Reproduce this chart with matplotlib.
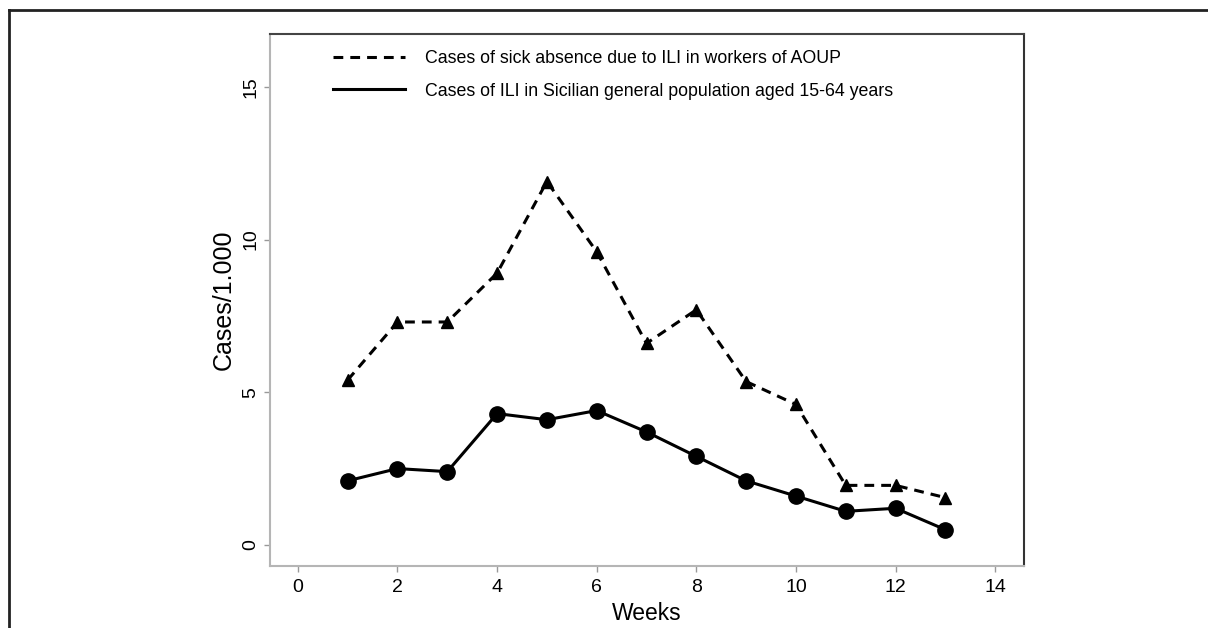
import numpy as np
import matplotlib
matplotlib.use("Agg")
import matplotlib.pyplot as plt
from matplotlib.lines import Line2D

plt.rcParams['font.family'] = ['Liberation Sans', 'DejaVu Sans']

weeks = [1, 2, 3, 4, 5, 6, 7, 8, 9, 10, 11, 12, 13]
# sick absence in AOUP workers (dashed, triangles)
aoup = [5.4, 7.3, 7.3, 8.9, 11.9, 9.6, 6.6, 7.7, 5.35, 4.6, 1.95, 1.95, 1.55]
# ILI in Sicilian general population 15-64 (solid, circles)
sicily = [2.1, 2.5, 2.4, 4.3, 4.1, 4.4, 3.7, 2.9, 2.1, 1.6, 1.1, 1.2, 0.5]

xticks = [0, 2, 4, 6, 8, 10, 12, 14]
yticks = [0, 5, 10, 15]
lab_aoup = "Cases of sick absence due to ILI in workers of AOUP"
lab_sic = "Cases of ILI in Sicilian general population aged 15-64 years"

fig = plt.figure(figsize=(12.08, 6.28), dpi=100)
ax = fig.add_axes([270/1208, 1-566/628, (1024-270)/1208, (566-34)/628])

ax.plot(weeks, aoup, color='black', lw=2.2, ls=(0, (3.2, 2.3)),
        marker='^', ms=8.5, mec='black', mfc='black')
ax.plot(weeks, sicily, color='black', lw=2.2, ls='-',
        marker='o', ms=11, mec='black', mfc='black')

ax.set_xlim(-0.56, 14.58)
ax.set_ylim(-0.69, 16.73)
ax.set_xticks(xticks)
ax.set_yticks(yticks)
ax.tick_params(axis='both', labelsize=14, color='#999999', length=4, width=1)
ax.tick_params(axis='x', pad=5)
for t in ax.get_yticklabels():
    t.set_rotation(90)
    t.set_va('center')

ax.set_xlabel("Weeks", fontsize=16.5, labelpad=5)
ax.set_ylabel("Cases/1.000", fontsize=18, labelpad=5)

ax.spines['left'].set_color('#b5b5b5')
ax.spines['bottom'].set_color('#b5b5b5')
ax.spines['top'].set_color('#444444')
ax.spines['right'].set_color('#333333')
for s in ax.spines.values():
    s.set_linewidth(1.5)

handles = [Line2D([], [], color='black', lw=2.2, ls=(0, (3.2, 2.3))),
           Line2D([], [], color='black', lw=2.2, ls='-')]
fig.legend(handles, [lab_aoup, lab_sic], loc='upper left',
           bbox_to_anchor=(333/1208, 1-50/628), frameon=False, fontsize=12.8,
           handlelength=4.05, handletextpad=1.1, labelspacing=0.88,
           borderpad=0, borderaxespad=0)

# outer frame (left and top edges)
fig.add_artist(Line2D([9/1208, 9/1208], [0, 1-10/628], color='#222222', lw=2))
fig.add_artist(Line2D([9/1208, 1], [1-10/628, 1-10/628], color='#222222', lw=2))

fig.savefig("out.png", dpi=100)
